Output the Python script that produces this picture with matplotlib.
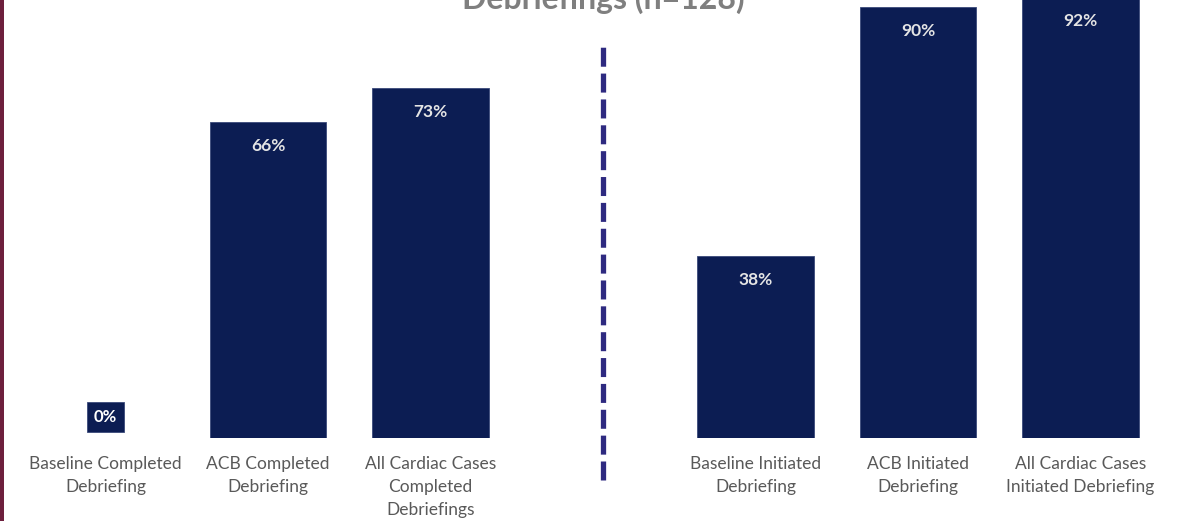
import matplotlib
matplotlib.use("Agg")
import matplotlib.pyplot as plt
from matplotlib.patches import Rectangle

categories = ["Baseline Completed\nDebriefing", "ACB Completed\nDebriefing",
              "All Cardiac Cases\nCompleted\nDebriefings",
              "Baseline Initiated\nDebriefing", "ACB Initiated\nDebriefing",
              "All Cardiac Cases\nInitiated Debriefing"]
values = [0, 66, 73, 38, 90, 92]
value_labels = ["0%", "66%", "73%", "38%", "90%", "92%"]
positions = [0, 1, 2, 4, 5, 6]
title = "Debriefings (n=128)"

BAR = "#0c1d53"
GRAY = "#595959"
plt.rcParams['font.family'] = ['Lato', 'DejaVu Sans']

fig = plt.figure(figsize=(11.8, 5.21), dpi=100)
ax = fig.add_axes([0, 83/521, 1, 438/521])
ax.set_xlim(-105.5/162.5, (1180-105.5)/162.5)
ax.set_ylim(0, 438/4.79)

ax.bar(positions, values, width=0.715, color=BAR, edgecolor="#3a4a7a", linewidth=0.6)
for p, v, lab in zip(positions, values, value_labels):
    if v == 0:
        ax.text(p, 4.3, lab, ha="center", va="center", color="white", fontsize=12,
                fontweight="bold",
                bbox=dict(boxstyle="square,pad=0.42", facecolor=BAR, edgecolor="#3a4a7a", linewidth=0.6))
    else:
        ax.text(p, v - 5, lab, ha="center", va="center", color="#e4e4e4", fontsize=12.5,
                fontweight="bold")

for p, c in zip(positions, categories):
    ax.text(p, -3.7, c, ha="center", va="top", color=GRAY, fontsize=12.5,
            linespacing=1.55, transform=ax.transData, clip_on=False)

# dashed divider
ax.plot([3.06, 3.06], [-8.8, 82.0], color="#2e2a80", linewidth=3.8,
        linestyle=(0, (3.6, 1.3)), clip_on=False, solid_capstyle="butt", dash_capstyle="butt")

for s in ax.spines.values():
    s.set_visible(False)
ax.set_xticks([])
ax.set_yticks([])

fig.text(603/1180, 1 + 1/521, title, ha="center", va="center", color="#7f7f7f",
         fontsize=23, fontweight="bold")

fig.patches.append(Rectangle((0, 0), 4/1180, 1, transform=fig.transFigure,
                             facecolor="#6d1f3d", edgecolor="none"))

fig.savefig("out.png", dpi=100)
